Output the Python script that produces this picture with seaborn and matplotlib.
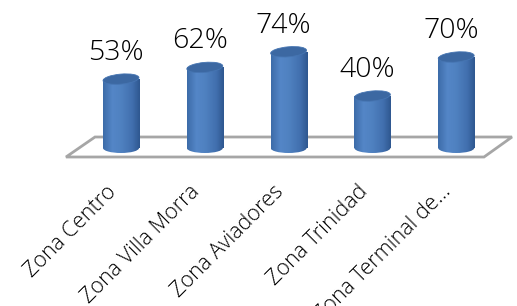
import numpy as np
import pandas as pd
import matplotlib
matplotlib.use("Agg")
import matplotlib.pyplot as plt
import matplotlib.transforms as mtransforms
from matplotlib.patches import Ellipse, Polygon
from matplotlib.colors import LinearSegmentedColormap
import seaborn as sns

categories = ["Zona Centro", "Zona Villa Morra", "Zona Aviadores", "Zona Trinidad", "Zona Terminal de..."]
values = [53, 62, 74, 40, 70]
value_labels = ["53%", "62%", "74%", "40%", "70%"]

sns.set_style("white")
plt.rcParams["font.family"] = ["Open Sans", "DejaVu Sans"]

W, H = 517, 306
fig = plt.figure(figsize=(W / 100, H / 100), dpi=100)
floor_front = 157
ax = fig.add_axes([0, (H - floor_front) / H, 1, floor_front / H])

df = pd.DataFrame({"cat": categories, "val": values})
bar_w = 0.43
sns.barplot(data=df, x="cat", y="val", color="#4F81BD", saturation=1, width=bar_w, ax=ax, zorder=3)

spacing = 83.8
x0px = 121
px_per_unit = 1.30
zero_px = 148
ymin = -(floor_front - zero_px) / px_per_unit

for s in ax.spines.values():
    s.set_visible(False)
ax.set_yticks([])
ax.set_xlabel("")
ax.set_ylabel("")
ax.set_xlim(-x0px / spacing, (W - x0px) / spacing)
ax.set_ylim(ymin, ymin + floor_front / px_per_unit)

# floor
floor_px = [(66, 157), (95, 137), (512, 137), (484, 157)]
floor_ax = [(x / W, (floor_front - y) / floor_front) for x, y in floor_px]
ax.add_patch(Polygon(floor_ax, closed=True, transform=ax.transAxes, facecolor="white",
                     edgecolor="#A6A6A6", linewidth=2, clip_on=False, zorder=1))

cmap = LinearSegmentedColormap.from_list("cyl", [
    (0.0, "#3D6CA9"), (0.25, "#5486C7"), (0.5, "#4F81C0"), (0.8, "#416FAE"), (1.0, "#2F5890")])
grad = np.linspace(0, 1, 64).reshape(1, -1)
ell_h = 10 / px_per_unit

bars = [p for p in ax.patches if not isinstance(p, Polygon)]
for p in bars:
    x = p.get_x(); w = p.get_width(); h = p.get_height()
    p.set_visible(False)
    ext = (x, x + w, -ell_h, h)
    rect = plt.Rectangle((x, 0), w, h, transform=ax.transData)
    im = ax.imshow(grad, cmap=cmap, extent=ext, aspect="auto", zorder=3, interpolation="bilinear")
    im.set_clip_path(rect)
    bot = Ellipse((x + w / 2, 0), w, ell_h, transform=ax.transData)
    im2 = ax.imshow(grad, cmap=cmap, extent=ext, aspect="auto", zorder=3, interpolation="bilinear")
    im2.set_clip_path(bot)
    w_px = w * spacing
    tr = mtransforms.ScaledTranslation(x + w / 2, h, ax.transData)
    ax.add_patch(Ellipse((0, 0), w_px, 10, angle=5, transform=tr, facecolor="#3C68A2",
                         edgecolor="#4675B2", linewidth=0.6, zorder=4))

for i, (v, lab) in enumerate(zip(values, value_labels)):
    ax.annotate(lab, (i, v), xytext=(-5, 19), textcoords="offset pixels", ha="center",
                va="baseline", fontsize=20.5, fontweight="light", color="black", zorder=5)

ax.set_xticks(range(len(categories)))
ax.set_xticklabels(categories, rotation=45, ha="right", va="center", rotation_mode="anchor",
                   fontsize=15.5, fontweight="light", color="black")
ax.tick_params(axis="x", length=0, pad=23)
offset = mtransforms.ScaledTranslation(-8 / 100, 0, fig.dpi_scale_trans)
for t in ax.get_xticklabels():
    t.set_transform(t.get_transform() + offset)

fig.savefig("out.png", dpi=100)
